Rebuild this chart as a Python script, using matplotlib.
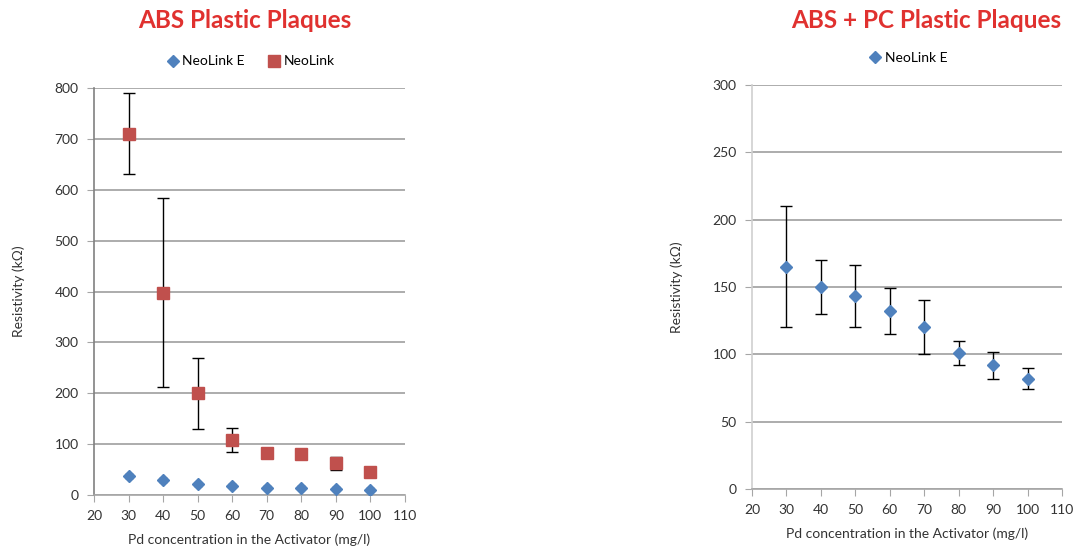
import matplotlib.pyplot as plt
from matplotlib.lines import Line2D

# datos
pd_conc = [30, 40, 50, 60, 70, 80, 90, 100]

abs_neolink = [710, 398, 200, 108, 83, 80, 62, 45]
abs_neolink_err = [80, 185, 70, 23, 10, 8, 12, 3]
abs_neolink_e = [37, 29, 21, 18, 14, 14, 12, 10]
abs_neolink_e_err = [4, 4, 3, 3, 3, 3, 3, 3]

pc_neolink_e = [165, 150, 143, 132, 120, 101, 92, 82]
pc_neolink_e_err = [45, 20, 23, 17, 20, 9, 10, 7.5]

xticks = [20, 30, 40, 50, 60, 70, 80, 90, 100, 110]
yticks_abs = [0, 100, 200, 300, 400, 500, 600, 700, 800]
yticks_pc = [0, 50, 100, 150, 200, 250, 300]

AZUL = "#4f81bd"
ROJO = "#c0504d"
TITULO = "#e0312f"
GRIS = "#a6a6a6"

plt.rcParams['font.family'] = ['Lato', 'DejaVu Sans']


def preparar_ejes(ax, yticks, color_eje):
    ax.set_xlim(20, 110)
    ax.set_ylim(yticks[0], yticks[-1])
    ax.set_xticks(xticks)
    ax.set_yticks(yticks)
    ax.grid(axis='y', color=GRIS, linewidth=1.3)
    ax.set_axisbelow(True)
    for lado in ['top', 'right']:
        ax.spines[lado].set_visible(False)
    ax.spines['left'].set_color(color_eje)
    ax.spines['bottom'].set_color(GRIS)
    ax.spines['left'].set_linewidth(1.2)
    ax.spines['bottom'].set_linewidth(1.2)
    ax.tick_params(axis='both', direction='out', length=5, color=GRIS,
                   labelsize=10, labelcolor='#333333', pad=6)
    ax.set_xlabel("Pd concentration in the Activator (mg/l)", fontsize=10, color='#333333', labelpad=8)
    ax.set_ylabel("Resistivity (kΩ)", fontsize=10, color='#333333', labelpad=21)


def main():
    fig = plt.figure(figsize=(10.75, 5.48), dpi=100)

    ax1 = fig.add_axes([0.0874, 0.0967, 0.2893, 0.7427])
    ax2 = fig.add_axes([0.6995, 0.1077, 0.2885, 0.7373])

    preparar_ejes(ax1, yticks_abs, '#808080')
    preparar_ejes(ax2, yticks_pc, '#d0d0d0')

    ax1.errorbar(pd_conc, abs_neolink_e, yerr=abs_neolink_e_err, fmt='D', color=AZUL,
                 markersize=6, ecolor='black', elinewidth=1, capsize=3, zorder=3)
    ax1.errorbar(pd_conc, abs_neolink, yerr=abs_neolink_err, fmt='s', color=ROJO,
                 markersize=8, ecolor='black', elinewidth=1, capsize=4, zorder=3)

    ax2.errorbar(pd_conc, pc_neolink_e, yerr=pc_neolink_e_err, fmt='D', color=AZUL,
                 markersize=6, ecolor='black', elinewidth=1, capsize=4, zorder=3)

    h_e = Line2D([], [], marker='D', color=AZUL, linestyle='none', markersize=6)
    h_n = Line2D([], [], marker='s', color=ROJO, linestyle='none', markersize=8)

    ax1.legend([h_e, h_n], ["NeoLink E", "NeoLink"], loc='lower center',
               bbox_to_anchor=(0.5, 1.02), ncol=2, frameon=False, fontsize=10,
               handletextpad=0.1, columnspacing=1.5, handlelength=1.2)
    ax2.legend([h_e], ["NeoLink E"], loc='lower center',
               bbox_to_anchor=(0.5, 1.02), frameon=False, fontsize=10,
               handletextpad=0.1, handlelength=1.2)

    fig.text(245 / 1075, 1 - 21 / 548, "ABS Plastic Plaques", color=TITULO,
             fontsize=17.5, fontweight='bold', ha='center', va='center')
    fig.text(926 / 1075, 1 - 21 / 548, "ABS + PC Plastic Plaques", color=TITULO,
             fontsize=17.5, fontweight='bold', ha='center', va='center')

    fig.savefig("out.png", dpi=100)


if __name__ == "__main__":
    main()
